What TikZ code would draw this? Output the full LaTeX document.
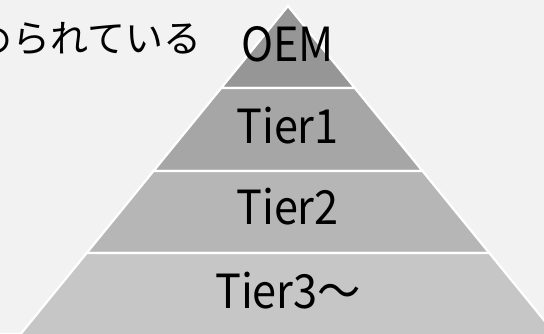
\documentclass[tikz,border=0pt]{standalone}
\usepackage{fontspec}
\setmainfont{Noto Sans CJK JP}
\newfontfamily\tierfont[FakeStretch=0.92]{Noto Sans CJK JP}
\begin{document}
\begin{tikzpicture}[x=1pt,y=-1pt,
  layer/.style={draw=white,line width=2.2pt,line join=miter},
  tier/.style={font=\tierfont\fontsize{47}{50}\selectfont,anchor=base,inner sep=0pt,text=black},
  note/.style={font=\fontsize{38}{42}\selectfont,anchor=base east,inner sep=0pt,text=black}]
  \definecolor{bg}{HTML}{F2F2F2}
  \definecolor{gA}{HTML}{969696}
  \definecolor{gB}{HTML}{A6A6A6}
  \definecolor{gC}{HTML}{B6B6B6}
  \definecolor{gD}{HTML}{C6C6C6}
  \useasboundingbox (0,0) rectangle (544,333);
  \clip (0,0) rectangle (544,333);
  \fill[bg] (0,0) rectangle (544,333);
  % pyramid: apex at (288,6), side slope 0.815 horizontal per vertical unit
  \filldraw[layer,fill=gA] (288,6) -- (354.8,88) -- (221.2,88) -- cycle;
  \filldraw[layer,fill=gB] (221.2,88) -- (354.8,88) -- (422.5,171) -- (153.5,171) -- cycle;
  \filldraw[layer,fill=gC] (153.5,171) -- (422.5,171) -- (489.3,253) -- (86.7,253) -- cycle;
  \filldraw[layer,fill=gD] (86.7,253) -- (489.3,253) -- (560.2,340) -- (15.8,340) -- cycle;
  % labels
  \node[note] (note) at (202,52) {められている};
  \node[tier] (oem) at (287.5,61) {OEM};
  \node[tier] (t1) at (287.5,143) {Tier1};
  \node[tier] (t2) at (287.5,224) {Tier2};
  \node[tier] (t3) at (288,308) {Tier3～};
\end{tikzpicture}
\end{document}
